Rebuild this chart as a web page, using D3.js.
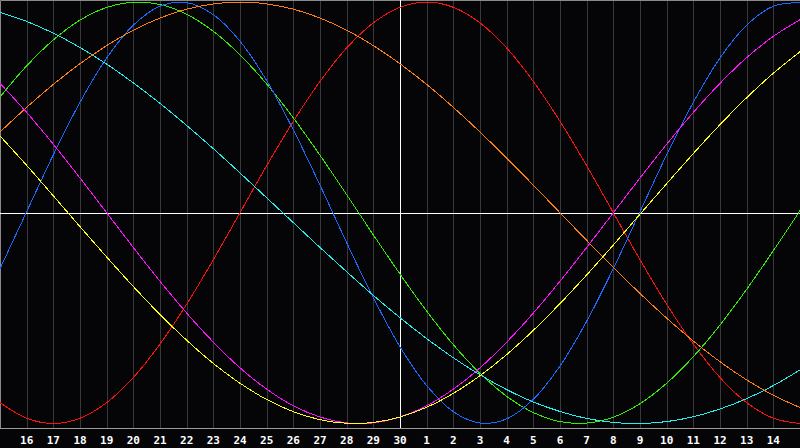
<!DOCTYPE html>
<html>
<head>
<meta charset="utf-8">
<script src="https://cdn.jsdelivr.net/npm/d3@7"></script>
<style>
  html, body { margin: 0; padding: 0; background: #050508; }
  svg { display: block; }
</style>
</head>
<body>
<div id="chart"></div>
<script>
// day numbers across the chart (left edge = 15, right edge = 15 next month)
var dayLabels = [15, 16, 17, 18, 19, 20, 21, 22, 23, 24, 25, 26, 27, 28, 29, 30,
  1, 2, 3, 4, 5, 6, 7, 8, 9, 10, 11, 12, 13, 14, 15];
var todayIndex = 15;

// curve values at every day line (-1 .. 1)
var redValues = [-0.901, -0.975, -1, -0.975, -0.901, -0.782, -0.623, -0.434, -0.223, 0,
  0.223, 0.434, 0.623, 0.782, 0.901, 0.975, 1, 0.975, 0.901, 0.782,
  0.623, 0.434, 0.223, 0, -0.223, -0.434, -0.623, -0.782, -0.901, -0.975, -1];
var greenValues = [0.549, 0.697, 0.820, 0.914, 0.974, 0.999, 0.988, 0.942, 0.861, 0.749,
  0.611, 0.450, 0.273, 0.086, -0.105, -0.291, -0.467, -0.626, -0.762, -0.871,
  -0.948, -0.991, -0.998, -0.970, -0.906, -0.809, -0.683, -0.533, -0.363, -0.180, 0.010];
var blueValues = [-0.265, 0.005, 0.275, 0.524, 0.734, 0.890, 0.980, 0.997, 0.940, 0.814,
  0.627, 0.393, 0.131, -0.142, -0.403, -0.636, -0.820, -0.944, -0.998, -0.978,
  -0.885, -0.727, -0.515, -0.265, 0.005, 0.275, 0.524, 0.734, 0.890, 0.980, 0.997];
var cyanValues = [0.951, 0.908, 0.852, 0.784, 0.705, 0.616, 0.519, 0.414, 0.304, 0.189,
  0.071, -0.047, -0.165, -0.280, -0.392, -0.498, -0.597, -0.688, -0.769, -0.839,
  -0.898, -0.943, -0.976, -0.995, -1.000, -0.991, -0.968, -0.931, -0.882, -0.820, -0.746];
var yellowValues = [0.364, 0.225, 0.080, -0.066, -0.210, -0.350, -0.483, -0.605, -0.715, -0.809,
  -0.886, -0.944, -0.982, -0.999, -0.995, -0.969, -0.923, -0.857, -0.773, -0.673,
  -0.558, -0.431, -0.295, -0.153, -0.007, 0.138, 0.281, 0.418, 0.546, 0.662, 0.764];
var magentaValues = [0.614, 0.476, 0.325, 0.165, 0, -0.165, -0.325, -0.476, -0.614, -0.736,
  -0.837, -0.916, -0.969, -0.997, -0.997, -0.969, -0.916, -0.837, -0.736, -0.614,
  -0.476, -0.325, -0.165, 0, 0.165, 0.325, 0.476, 0.614, 0.736, 0.837, 0.916];
var orangeValues = [0.383, 0.5, 0.609, 0.707, 0.793, 0.866, 0.924, 0.966, 0.991, 1,
  0.991, 0.966, 0.924, 0.866, 0.793, 0.707, 0.609, 0.5, 0.383, 0.259,
  0.131, 0, -0.131, -0.259, -0.383, -0.5, -0.609, -0.707, -0.793, -0.866, -0.924];

var series = [
  { values: redValues, color: "#ff1010" },
  { values: greenValues, color: "#30f000" },
  { values: blueValues, color: "#1a6aff" },
  { values: cyanValues, color: "#20f0f0" },
  { values: orangeValues, color: "#ff8010" },
  { values: magentaValues, color: "#ff10ff" },
  { values: yellowValues, color: "#ffff10" }
];

var width = 800, height = 448, plotBottom = 428;

var svg = d3.select("#chart").append("svg")
  .attr("width", width)
  .attr("height", height);

svg.append("rect")
  .attr("width", width)
  .attr("height", height)
  .attr("fill", "#050508");

var x = d3.scaleLinear().domain([0, dayLabels.length - 1]).range([0, width]);
var y = d3.scaleLinear().domain([-1, 1]).range([423.5, 2]);

// day grid lines
svg.append("g").selectAll("line")
  .data(d3.range(1, dayLabels.length - 1))
  .enter().append("line")
  .attr("x1", function (d) { return Math.round(x(d)) + 0.5; })
  .attr("x2", function (d) { return Math.round(x(d)) + 0.5; })
  .attr("y1", 0)
  .attr("y2", plotBottom)
  .attr("stroke", "#38383c")
  .attr("stroke-width", 1);

// border
svg.append("path")
  .attr("d", "M0.5," + plotBottom + "V0.5H800")
  .attr("fill", "none")
  .attr("stroke", "#8a8a8a");
svg.append("line")
  .attr("x1", 0).attr("x2", width)
  .attr("y1", plotBottom + 0.5).attr("y2", plotBottom + 0.5)
  .attr("stroke", "#9a9a9a");

// zero line and today line
svg.append("line")
  .attr("x1", 0).attr("x2", width)
  .attr("y1", Math.round(y(0)) + 0.5).attr("y2", Math.round(y(0)) + 0.5)
  .attr("stroke", "#ffffff");
svg.append("line")
  .attr("x1", Math.round(x(todayIndex)) + 0.5).attr("x2", Math.round(x(todayIndex)) + 0.5)
  .attr("y1", 0).attr("y2", plotBottom)
  .attr("stroke", "#ffffff");

var line = d3.line()
  .x(function (d, i) { return x(i); })
  .y(function (d) { return y(d); })
  .curve(d3.curveCatmullRom.alpha(0.5));

svg.append("g").selectAll("path")
  .data(series)
  .enter().append("path")
  .attr("d", function (d) { return line(d.values); })
  .attr("fill", "none")
  .attr("stroke", function (d) { return d.color; })
  .attr("stroke-width", 1)
  .style("shape-rendering", "crispEdges");

// day labels
svg.append("g").selectAll("text")
  .data(d3.range(1, dayLabels.length - 1))
  .enter().append("text")
  .attr("x", function (d) { return x(d); })
  .attr("y", 444)
  .attr("text-anchor", "middle")
  .attr("fill", "#ffffff")
  .attr("font-family", "'DejaVu Sans Mono', monospace")
  .attr("font-weight", "bold")
  .attr("font-size", "11px")
  .text(function (d) { return dayLabels[d]; });
</script>
</body>
</html>
